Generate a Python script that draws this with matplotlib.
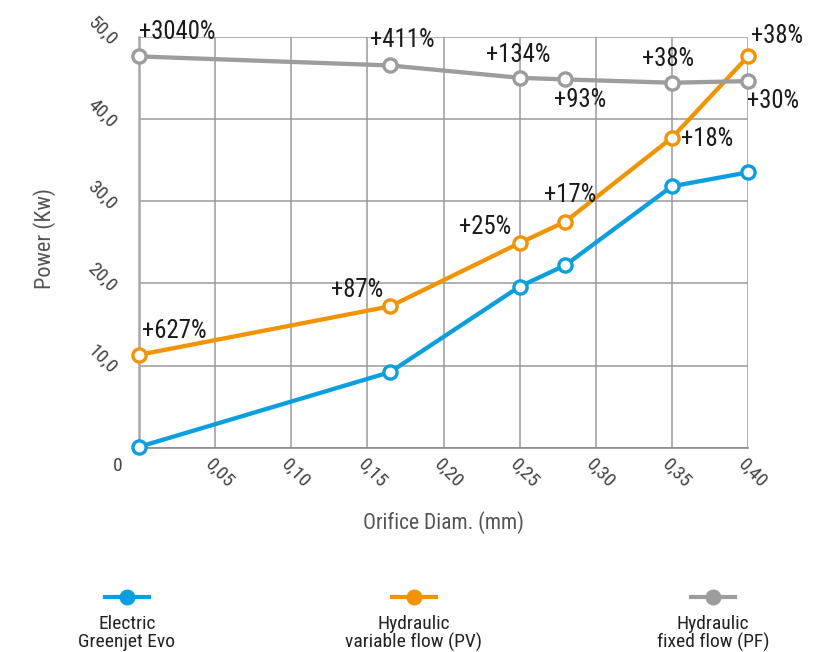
import matplotlib
matplotlib.use("Agg")
import matplotlib.pyplot as plt
from matplotlib import font_manager as fm
from matplotlib.transforms import ScaledTranslation
from matplotlib.lines import Line2D

# ---------------- data ----------------
diam = [0.0, 0.165, 0.25, 0.28, 0.35, 0.40]
electric = [0.1, 9.2, 19.6, 22.2, 31.8, 33.5]
hyd_variable = [11.3, 17.2, 24.9, 27.5, 37.7, 47.6]
hyd_fixed = [47.6, 46.5, 45.0, 44.8, 44.4, 44.6]
labels_variable = ["+627%", "+87%", "+25%", "+17%", "+18%", "+38%"]
labels_fixed = ["+3040%", "+411%", "+134%", "+93%", "+38%", "+30%"]
series_names = ["Electric\nGreenjet Evo", "Hydraulic\nvariable flow (PV)", "Hydraulic\nfixed flow (PF)"]
x_ticks = [0.05, 0.10, 0.15, 0.20, 0.25, 0.30, 0.35, 0.40]
x_ticklabels = ["0,05", "0,10", "0,15", "0,20", "0,25", "0,30", "0,35", "0,40"]
y_ticks = [10, 20, 30, 40, 50]
y_ticklabels = ["10,0", "20,0", "30,0", "40,0", "50,0"]

# ---------------- fonts ----------------
names = {f.name for f in fm.fontManager.ttflist}
cands = ["Roboto Condensed", "Liberation Sans Narrow", "Open Sans Condensed", "DejaVu Sans Condensed", "Roboto"]
FONT = next((c for c in cands if c in names), "DejaVu Sans")
plt.rcParams['font.family'] = [FONT, 'DejaVu Sans']

BLUE = "#0a9fe0"
ORANGE = "#f29400"
GRAY = "#9d9d9c"

fig = plt.figure(figsize=(8.17, 6.52), dpi=100)
ax = fig.add_axes([139/817, 1-447.7/652, (748-139)/817, (447.7-36.7)/652])
ax.set_xlim(0, 0.40)
ax.set_ylim(0, 50)

ax.set_xticks([0.0] + x_ticks)
ax.set_xticklabels([""] + x_ticklabels)
ax.set_yticks([0] + y_ticks)
ax.set_yticklabels([""] + y_ticklabels)
ax.grid(True, color="#9a9a9a", lw=1.1)
ax.set_axisbelow(True)
ax.tick_params(length=0)
for s in ["top", "right"]:
    ax.spines[s].set_visible(False)
ax.spines["left"].set_color("#a8a8a8")
ax.spines["left"].set_linewidth(1.8)
ax.spines["bottom"].set_color("#8a8a8a")
ax.spines["bottom"].set_linewidth(1.2)

for lbl in ax.get_xticklabels():
    lbl.set_rotation(-45)
    lbl.set_ha("center")
    lbl.set_va("top")
    lbl.set_fontsize(14)
    lbl.set_color("#444444")
    lbl.set_transform(lbl.get_transform() + ScaledTranslation(5/100, -3/100, fig.dpi_scale_trans))
for lbl in ax.get_yticklabels():
    lbl.set_rotation(-45)
    lbl.set_ha("right")
    lbl.set_va("center")
    lbl.set_fontsize(14)
    lbl.set_color("#444444")
    lbl.set_transform(lbl.get_transform() + ScaledTranslation(-14/100, 6/100, fig.dpi_scale_trans))

ax.annotate("0", xy=(0, 0), xytext=(-21, -18), textcoords="offset pixels",
            ha="center", va="center", fontsize=14, color="#444444", annotation_clip=False)

ax.set_xlabel("Orifice Diam. (mm)", fontsize=15.5, color="#555555", labelpad=14)
ax.set_ylabel("Power (Kw)", fontsize=16, color="#555555", labelpad=20)
ax.yaxis.set_label_coords(-0.137, 0.51)

mk = dict(marker="o", ms=9.5, mew=2.4, mfc="white", lw=3.1, clip_on=False, zorder=3)
ax.plot(diam, electric, color=BLUE, **mk)
ax.plot(diam, hyd_variable, color=ORANGE, **mk)
ax.plot(diam, hyd_fixed, color=GRAY, **mk)

# label offsets (pixels, center-x / baseline)
off_fixed = [(38, 17), (12, 18), (-1, 16), (15, -28), (-4, 17), (25, -27)]
off_var = [(35, 17), (-33, 9), (-34, 9), (5, 20), (35, -8), (29, 13)]
for xv, yv, t, (dx, dy) in zip(diam, hyd_fixed, labels_fixed, off_fixed):
    ax.annotate(t, xy=(xv, yv), xytext=(dx, dy), textcoords="offset pixels",
                ha="center", va="baseline", fontsize=17.8, color="#1a1a1a",
                annotation_clip=False, zorder=4)
for xv, yv, t, (dx, dy) in zip(diam, hyd_variable, labels_variable, off_var):
    ax.annotate(t, xy=(xv, yv), xytext=(dx, dy), textcoords="offset pixels",
                ha="center", va="baseline", fontsize=17.8, color="#1a1a1a",
                annotation_clip=False, zorder=4)

# ---------------- legend ----------------
lax = fig.add_axes([0, 0, 1, 1], zorder=-5)
lax.set_xlim(0, 817)
lax.set_ylim(652, 0)
lax.axis("off")
for cx, col, name in zip([127, 414, 713], [BLUE, ORANGE, GRAY], series_names):
    lax.add_line(Line2D([cx - 22, cx + 22], [597, 597], color=col, lw=3.0))
    lax.add_line(Line2D([cx], [597], color=col, marker="o", ms=10.5, mfc=col, mec=col))
    lax.text(cx, 615, name, ha="center", va="top", fontsize=14,
             color="#222222", linespacing=1.0, multialignment="center")

fig.savefig("out.png", dpi=100)
